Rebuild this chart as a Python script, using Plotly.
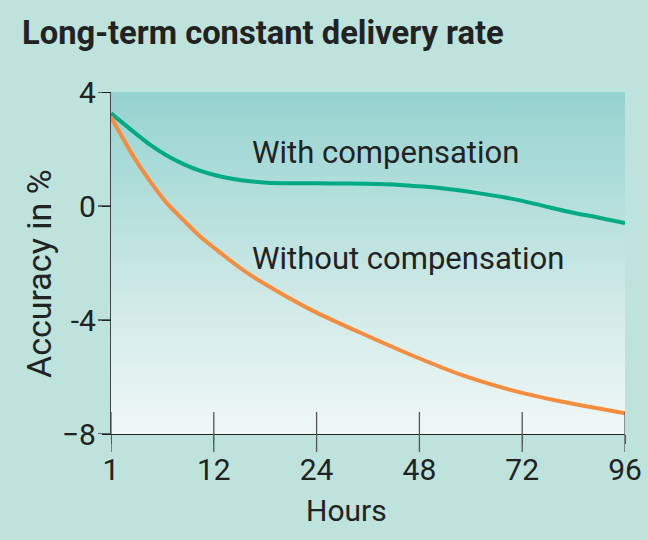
import numpy as np
import plotly.graph_objects as go

# ---- data ----
tick_hours = [1, 12, 24, 48, 72, 96]
tick_labels = ["1", "12", "24", "48", "72", "96"]
y_ticks = [-8, -4, 0, 4]
y_tick_labels = ["\u22128", "-4", "0", "4"]
y_range = [-8, 4]

hours_with = [1, 3.39, 5.17, 6.96, 8.7, 10.5, 12.3, 14.3, 16.2, 18.2, 22.1, 27.8, 35.7,
              43.5, 48, 55.1, 61.0, 66.9, 72, 78.5, 82.5, 90.2, 96]
acc_with = [3.25, 2.61, 2.15, 1.77, 1.48, 1.24, 1.07, 0.95, 0.87, 0.82, 0.80, 0.79, 0.78,
            0.74, 0.69, 0.59, 0.47, 0.33, 0.18, -0.05, -0.19, -0.42, -0.6]

hours_without = [1, 3.39, 5.17, 6.96, 8.7, 10.5, 12.3, 14.3, 16.2, 20.1, 24, 34.1, 45.8,
                 57.5, 69.2, 80.8, 96]
acc_without = [3.12, 1.74, 0.87, 0.10, -0.48, -1.06, -1.53, -2.0, -2.41, -3.11, -3.74, -4.44,
               -5.21, -5.91, -6.45, -6.85, -7.27]

label_with = "With compensation"
label_without = "Without compensation"
title_text = "Long-term constant delivery rate"
x_title = "Hours"
y_title = "Accuracy in %"

# piecewise axis: ticks are equally spaced
tick_pos = list(range(len(tick_hours)))
def to_pos(h):
    return np.interp(h, tick_hours, tick_pos)

BG = "#bde3dc"
GREEN = "#00ab84"
ORANGE = "#f68d3e"
DARK = "#222222"
TICKC = "#555555"
FONT = "Roboto"
PLOT_H = 342
PLOT_W = 514

fig = go.Figure()

# gradient background of the plot area
xmin, xmax = tick_pos[0], tick_pos[-1]
fig.add_trace(go.Scatter(
    x=[xmin, xmax, xmax, xmin, xmin],
    y=[y_range[0], y_range[0], y_range[1], y_range[1], y_range[0]],
    mode="none", fill="toself",
    fillgradient=dict(type="vertical",
                      colorscale=[[0, "#f0f8f6"], [0.35, "#d3ebe8"], [1, "#95d3d0"]]),
    hoverinfo="skip", showlegend=False,
))

fig.add_trace(go.Scatter(
    x=to_pos(hours_with), y=acc_with, mode="lines",
    line=dict(color=GREEN, width=4, shape="spline", smoothing=0.7),
    showlegend=False,
))
fig.add_trace(go.Scatter(
    x=to_pos(hours_without), y=acc_without, mode="lines",
    line=dict(color=ORANGE, width=4, shape="spline", smoothing=0.7),
    showlegend=False,
))

# x tick marks crossing the axis (22 px inside, 18 px outside)
for p in tick_pos:
    fig.add_shape(type="line", xref="x", yref="paper", x0=p, x1=p,
                  y0=-18/PLOT_H, y1=22/PLOT_H,
                  line=dict(color=TICKC, width=1.3), layer="above")
# y tick marks, 13 px long, left of the axis
for v in y_ticks:
    fig.add_shape(type="line", xref="paper", yref="y", x0=-13/PLOT_W, x1=0,
                  y0=v, y1=v, line=dict(color=DARK, width=1.3), layer="above")

fig.add_annotation(x=1.355, y=1.89, xref="x", yref="y", text=label_with,
                   showarrow=False, xanchor="left", yanchor="middle",
                   font=dict(family=FONT, size=31, color=DARK))
fig.add_annotation(x=1.355, y=-1.85, xref="x", yref="y", text=label_without,
                   showarrow=False, xanchor="left", yanchor="middle",
                   font=dict(family=FONT, size=31, color=DARK))

# axis titles
fig.add_annotation(x=(39-111)/PLOT_W, y=(434-274)/PLOT_H, xref="paper", yref="paper",
                   text=y_title, textangle=-90, showarrow=False,
                   xanchor="center", yanchor="middle",
                   font=dict(family=FONT, size=34, color=DARK))
fig.add_annotation(x=(346-111)/PLOT_W, y=(434-510)/PLOT_H, xref="paper", yref="paper",
                   text=x_title, showarrow=False,
                   xanchor="center", yanchor="middle",
                   font=dict(family=FONT, size=30, color=DARK))

fig.update_layout(
    width=648, height=540,
    margin=dict(l=111, r=23, t=92, b=106),
    paper_bgcolor=BG, plot_bgcolor=BG,
    title=dict(text="<b>" + title_text + "</b>", xref="container", yref="container",
               x=22/648, y=1-33/540, xanchor="left", yanchor="middle",
               font=dict(family=FONT, size=32.7, color=DARK)),
    font=dict(family=FONT, color=DARK),
)
fig.update_xaxes(range=[xmin, xmax], tickvals=tick_pos, ticktext=tick_labels,
                 automargin=False,
                 showgrid=False, zeroline=False, showline=True, linecolor=DARK, linewidth=1.3,
                 ticks="outside", ticklen=9, tickwidth=1.3, tickcolor=TICKC,
                 tickfont=dict(family=FONT, size=30, color=DARK))
fig.update_yaxes(range=y_range, tickvals=y_ticks, ticktext=y_tick_labels,
                 automargin=False,
                 showgrid=True, gridcolor=DARK, gridwidth=1.3, zeroline=False,
                 showline=True, linecolor="#444444", linewidth=1.3,
                 ticks="outside", ticklen=8, tickwidth=1.3, tickcolor=DARK,
                 tickfont=dict(family=FONT, size=30, color=DARK))

fig.write_html("out.html", config={"displayModeBar": False},
               post_script="document.body.style.margin='0';document.body.style.overflow='hidden';")
